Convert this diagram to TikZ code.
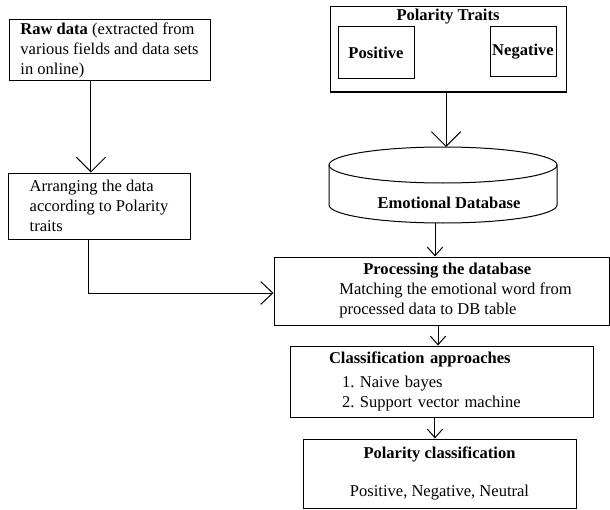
\documentclass[tikz,border=0pt]{standalone}
\usepackage{fontspec}
\setmainfont{Liberation Serif}
\usetikzlibrary{arrows.meta}
\frenchspacing

\begin{document}
\begin{tikzpicture}[x=0.75pt, y=-0.75pt, line width=0.75pt,
  font=\fontsize{12.4}{15}\selectfont,
  box/.style={draw, align=left, inner sep=2pt},
  bigarrow/.style={-{Straight Barb[length=11pt,width=22pt]}},
  midarrow/.style={-{Straight Barb[length=9pt,width=17pt]}},
  smallarrow/.style={-{Straight Barb[length=6.5pt,width=11.5pt]}}]
\useasboundingbox (0,0) rectangle (610,510);
\begin {scope}
  % left column
  \node [box, minimum width=150.75pt, minimum height=45.75pt] (raw) at (109.5,50.5)
    {\textbf{Raw data} (extracted from\\various fields and data sets\\in online)};
  \node [box, minimum width=136.5pt, minimum height=49.5pt] (arrange) at (99,206)
    {Arranging the data\\according to Polarity\\traits};
  % polarity traits
  \node [draw, minimum width=177pt, minimum height=63.75pt] (traits) at (448,49.5) {};
  \node (traitstitle) at (448,17) {\textbf{Polarity Traits}};
  \node [draw, inner sep=1pt, minimum width=57pt, minimum height=39pt] (pos) at (376,53) {\textbf{Positive}};
  \node [draw, inner sep=1pt, minimum width=49.5pt, minimum height=37.5pt] (neg) at (523,52) {\textbf{Negative}};
  % emotional database
  \draw (443,165) ellipse [x radius=114, y radius=18];
  \draw (329,165) -- (329,205) arc [start angle=180, end angle=0, x radius=114, y radius=18] -- (557,165);
  \node (emodb) at (449,203) {\textbf{Emotional Database}};
  \coordinate (dbtop) at (446,147);
  \coordinate (dbbot) at (435,223);
  % processing chain
  \node [box, minimum width=251.25pt, minimum height=51pt] (proc) at (441.5,291)
    {\hspace*{39pt}\textbf{Processing the database}\\\hspace*{21pt}Matching the emotional word from\\\hspace*{21pt}processed data to DB table};
  \node [box, inner xsep=29.25pt, text width=168.75pt, minimum height=53.25pt] (class) at (441.5,381.5)
    {\textbf{Classification approaches}\\[3pt]\hspace*{9.75pt}1. Naive bayes\\\hspace*{9.75pt}2. Support vector machine};
  \node [box, align=center, minimum width=204.75pt, minimum height=51.75pt] (polar) at (439.5,473.5)
    {\textbf{Polarity classification}\\[13.5pt]Positive, Negative, Neutral};
  % connectors
  \draw [bigarrow] ([xshift=-13.9pt]raw.south) -- ([xshift=-13.9pt]raw.south |- arrange.north);
  \draw [midarrow] ([xshift=-8.25pt]arrange.south) |- ([yshift=-1.5pt]proc.west);
  \draw [bigarrow] (traits.south -| dbtop) -- (dbtop);
  \draw [smallarrow] (dbbot) -- (dbbot |- proc.north);
  \draw [smallarrow] ([xshift=-2.6pt]proc.south) -- ([xshift=-2.6pt]proc.south |- class.north);
  \draw [smallarrow] ([xshift=-4.9pt]class.south) -- ([xshift=-4.9pt]class.south |- polar.north);
\end {scope}
\end{tikzpicture}
\end{document}
